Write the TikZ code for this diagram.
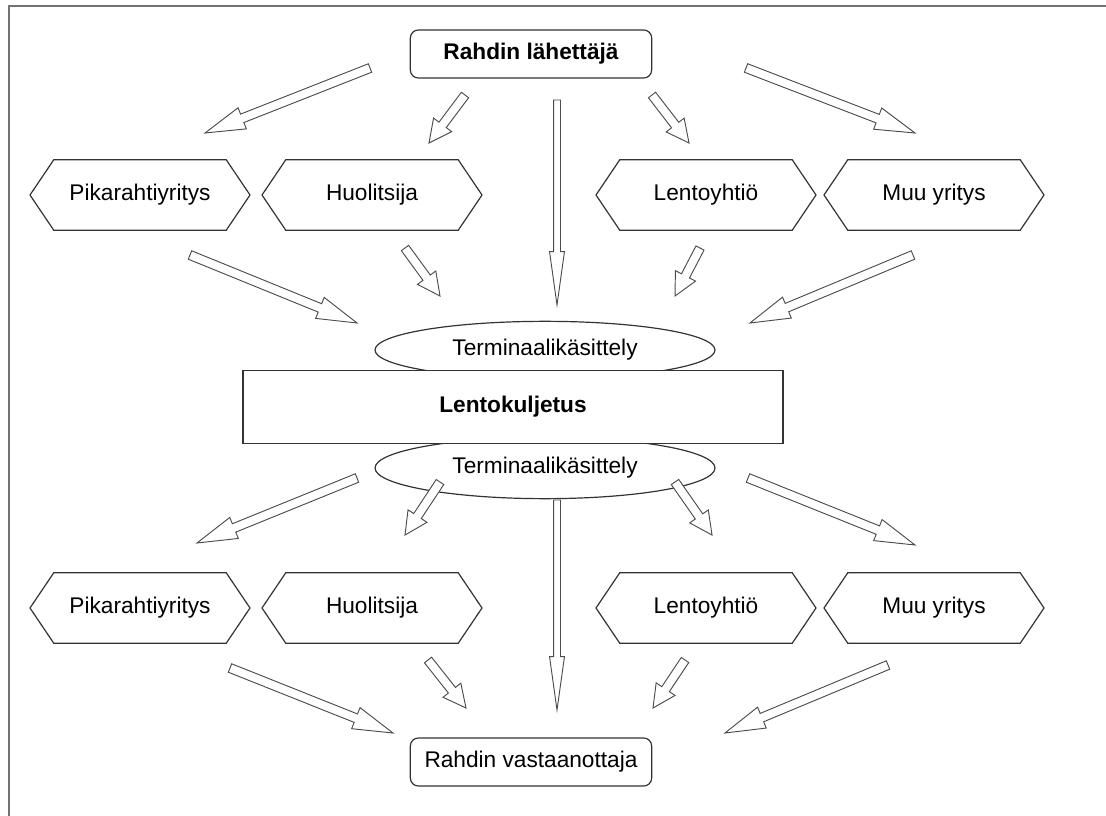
\documentclass[tikz,border=0pt]{standalone}
\usepackage{fontspec}
\setmainfont{Liberation Sans}
\usetikzlibrary{calc,shapes.geometric,shapes.symbols}
\def\blockarrow[#1:#2:#3](#4)(#5){%
	\path (#4) coordinate (ba-t) (#5) coordinate (ba-p);
	\path ($(ba-p)!#3!(ba-t)$) coordinate (ba-h);
	\draw[arrowline] ($(ba-t)!#1!90:(ba-p)$) -- ($(ba-h)!#1!90:(ba-p)$) -- ($(ba-h)!#2!90:(ba-p)$) -- (ba-p) -- ($(ba-h)!#2!-90:(ba-p)$) -- ($(ba-h)!#1!-90:(ba-p)$) -- ($(ba-t)!#1!-90:(ba-p)$) -- cycle;}
\newcommand\boxfont{\fontsize{17}{20}\selectfont}
\tikzset{
	firm/.style={draw=black!80, line width=0.9pt, shape=signal, signal to=west and east, signal pointer angle=112, minimum width=165pt, minimum height=53pt, inner sep=0pt, font=\boxfont},
	party/.style={draw=black!80, line width=0.9pt, rounded corners=6pt, minimum width=181pt, minimum height=36pt, font=\boxfont},
	terminal/.style={draw=black!80, line width=0.9pt, ellipse, minimum width=255pt, minimum height=44pt, inner sep=0pt, font=\boxfont},
	flight/.style={draw=black!80, line width=0.9pt, fill=white, minimum width=405pt, minimum height=55pt, font=\boxfont\bfseries},
	arrowline/.style={draw=black!70, line width=0.7pt, fill=white}
}
\begin{document}
\begin{tikzpicture}[x=0.75pt,y=-0.75pt]
				%%%%% frame %%%%%
				\useasboundingbox (0,0) rectangle (1106,816);
				\draw[black!55, line width=1.5pt] (9,816) -- (9,6) -- (1106,6);
				
				\node[party, font=\boxfont\bfseries] (sender) at (531,54) {Rahdin lähettäjä};
				
				\node[firm] (pika1) at (140,195) {Pikarahtiyritys};
				\node[firm] (huol1) at (372,195) {Huolitsija};
				\node[firm] (lento1) at (706,195) {Lentoyhtiö};
				\node[firm] (muu1) at (934,195) {Muu yritys};
				
				\node[terminal, minimum height=43pt] (term1) at (545,350) {Terminaalikäsittely};
				\node[terminal, minimum height=46pt] (term2) at (545,468) {Terminaalikäsittely};
				\node[flight] (flight) at (513,407) {Lentokuljetus};
				
				\node[firm] (pika2) at (140,608) {Pikarahtiyritys};
				\node[firm] (huol2) at (372,608) {Huolitsija};
				\node[firm] (lento2) at (706,608) {Lentoyhtiö};
				\node[firm] (muu2) at (934,608) {Muu yritys};
				
				\node[party] (receiver) at (531,762) {Rahdin vastaanottaja};
				
				%%%%% arrows %%%%%
				\coordinate (a1s) at (370,68);  \coordinate (a1e) at (205,133);
				\coordinate (a2s) at (465,95);  \coordinate (a2e) at (429,143);
				\coordinate (a3s) at (557,100); \coordinate (a3e) at (557,305);
				\coordinate (a4s) at (652,95);  \coordinate (a4e) at (689,143);
				\coordinate (a5s) at (746,68);  \coordinate (a5e) at (915,133);
				
				\coordinate (b1s) at (190,255); \coordinate (b1e) at (357,323);
				\coordinate (b2s) at (405,248); \coordinate (b2e) at (440,296);
				\coordinate (b3s) at (700,248); \coordinate (b3e) at (675,296);
				\coordinate (b4s) at (913,255); \coordinate (b4e) at (750,323);
				
				\coordinate (c1s) at (357,478); \coordinate (c1e) at (197,543);
				\coordinate (c2s) at (440,482); \coordinate (c2e) at (405,535);
				\coordinate (c3s) at (557,500); \coordinate (c3e) at (557,710);
				\coordinate (c4s) at (675,482); \coordinate (c4e) at (712,535);
				\coordinate (c5s) at (748,478); \coordinate (c5e) at (915,545);
				
				\coordinate (d1s) at (230,668); \coordinate (d1e) at (393,733);
				\coordinate (d2s) at (428,660); \coordinate (d2e) at (466,708);
				\coordinate (d3s) at (685,660); \coordinate (d3e) at (653,708);
				\coordinate (d4s) at (888,665); \coordinate (d4e) at (725,733);
				
				\blockarrow[3.4pt:8.5pt:30pt](a1s)(a1e);
				\blockarrow[3.4pt:8.5pt:17pt](a2s)(a2e);
				\blockarrow[2.6pt:5.6pt:40pt](a3s)(a3e);
				\blockarrow[3.4pt:8.5pt:17pt](a4s)(a4e);
				\blockarrow[3.4pt:8.5pt:30pt](a5s)(a5e);
				
				\blockarrow[3.4pt:8.5pt:30pt](b1s)(b1e);
				\blockarrow[3.4pt:8.5pt:17pt](b2s)(b2e);
				\blockarrow[3.4pt:8.5pt:17pt](b3s)(b3e);
				\blockarrow[3.4pt:8.5pt:30pt](b4s)(b4e);
				
				\blockarrow[3.4pt:8.5pt:30pt](c1s)(c1e);
				\blockarrow[3.4pt:8.5pt:17pt](c2s)(c2e);
				\blockarrow[2.6pt:5.6pt:40pt](c3s)(c3e);
				\blockarrow[3.4pt:8.5pt:17pt](c4s)(c4e);
				\blockarrow[3.4pt:8.5pt:30pt](c5s)(c5e);
				
				\blockarrow[3.4pt:8.5pt:30pt](d1s)(d1e);
				\blockarrow[3.4pt:8.5pt:17pt](d2s)(d2e);
				\blockarrow[3.4pt:8.5pt:17pt](d3s)(d3e);
				\blockarrow[3.4pt:8.5pt:30pt](d4s)(d4e);
\end{tikzpicture}
\end{document}
